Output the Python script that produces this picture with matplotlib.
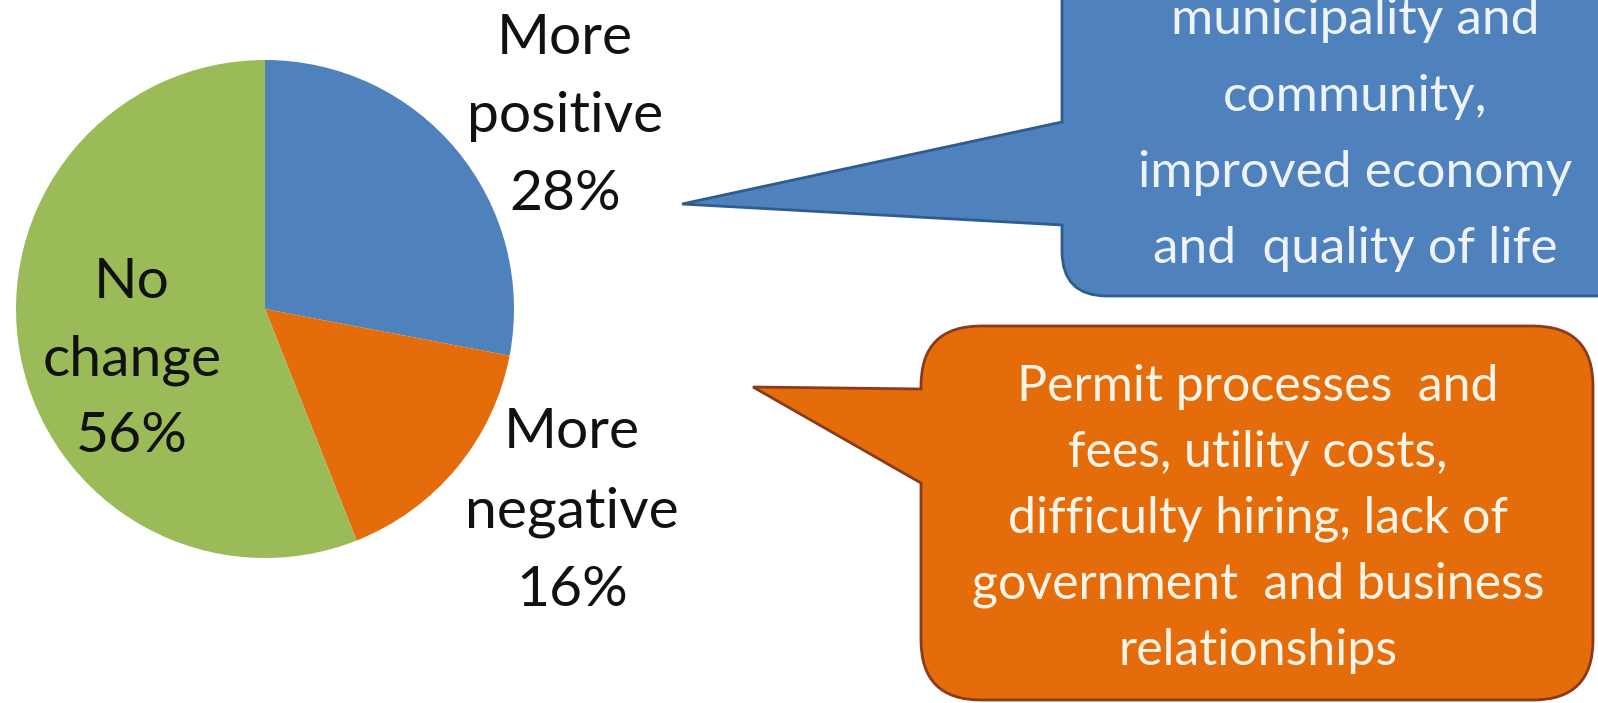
import matplotlib.pyplot as plt
from matplotlib.patches import FancyBboxPatch, Polygon

plt.rcParams['font.family'] = ['Lato', 'DejaVu Sans']

# data
categories = ['More positive', 'More negative', 'No change']
shares = [28, 16, 56]
colors = ['#4F81BD', '#E46C0A', '#9BBB59']

positive_note = ['municipality and', 'community,', 'improved economy', 'and  quality of life']
negative_note = ['Permit processes  and', 'fees, utility costs,', 'difficulty hiring, lack of',
                 'government  and business', 'relationships']

W, H = 1598, 703


def Y(y):
    # image row -> data y
    return H - y


fig = plt.figure(figsize=(W / 100, H / 100), dpi=100)
ax = fig.add_axes([0, 0, 1, 1])

ax.pie(shares, colors=colors, startangle=90, counterclock=False,
       center=(265, Y(309)), radius=249, wedgeprops=dict(linewidth=0))

ax.set_xlim(0, W)
ax.set_ylim(0, H)
ax.set_aspect('equal')
ax.axis('off')


def lines_at(x, y0, pitch, lines, size, color, **kw):
    for i, s in enumerate(lines):
        ax.text(x, Y(y0 + i * pitch), s, ha='center', va='center',
                fontsize=size, color=color, **kw)


# pie labels
lines_at(565, 38, 78, categories[0].split() + [f'{shares[0]}%'], 41, '#111111')
lines_at(572, 433, 79, categories[1].split() + [f'{shares[1]}%'], 41, '#111111')
lines_at(132, 283, 77, categories[2].split() + [f'{shares[2]}%'], 41, '#111111')


def callout(x0, y0, x1, y1, tip, up, lo, fill, edge, r):
    box = FancyBboxPatch((x0, Y(y1)), x1 - x0, y1 - y0,
                         boxstyle=f'round,pad=0,rounding_size={r}',
                         facecolor=fill, edgecolor=edge, linewidth=2, zorder=3)
    ax.add_patch(box)
    tri = Polygon([(tip[0], Y(tip[1])), (x0, Y(up)), (x0 + 6, Y(up)),
                   (x0 + 6, Y(lo)), (x0, Y(lo))],
                  closed=True, facecolor=fill, edgecolor='none', zorder=4)
    ax.add_patch(tri)
    ax.plot([x0, tip[0], x0], [Y(up), Y(tip[1]), Y(lo)], color=edge, lw=2,
            solid_joinstyle='miter', zorder=5)


callout(1062, -80, 1700, 296, (682, 204), 122, 225, '#4F81BD', '#2F5C8F', 45)
callout(921, 326, 1593, 700, (753, 387), 389, 483, '#E46C0A', '#8C3A1C', 60)

lines_at(1355, 20, 76.5, positive_note, 37, '#EEF3FA', zorder=6)
lines_at(1258, 387, 66, negative_note, 36, '#FFF4E8', zorder=6)

fig.savefig('out.png', dpi=100)
